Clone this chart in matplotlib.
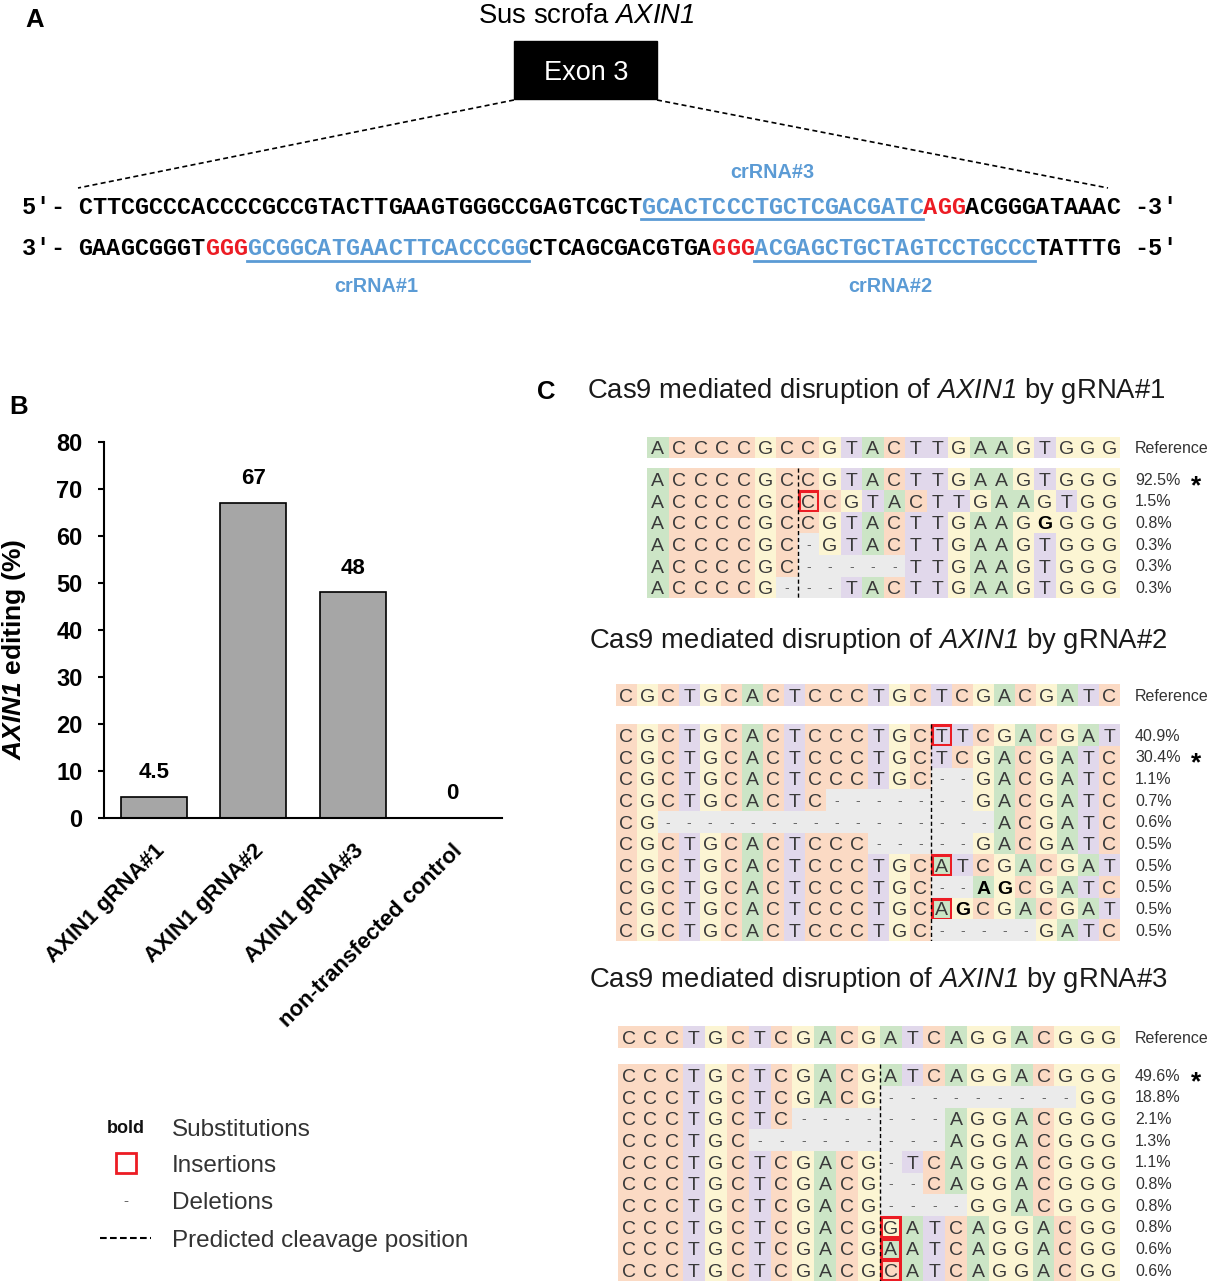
import numpy as np
import matplotlib.pyplot as plt
from matplotlib.patches import Rectangle

plt.rcParams['font.family'] = ['Liberation Sans', 'DejaVu Sans']
plt.rcParams['mathtext.fontset'] = 'custom'
# math parts are only used for the italic gene name, so digits go italic too
plt.rcParams['mathtext.rm'] = 'Liberation Sans:italic'
plt.rcParams['mathtext.it'] = 'Liberation Sans:italic'
plt.rcParams['mathtext.bf'] = 'Liberation Sans:italic:bold'

# ---------------- data ----------------
# Panel A: exon 3 sequence, top strand 5'->3', bottom strand 3'->5'
top_strand = ("CTTCGCCCACCCCGCCGTACTTGAAGTGGGCCGAGTCGCT" + "GCACTCCCTGCTCGACGATC"
              + "AGG" + "ACGGGATAAAC")
bottom_strand = ("GAAGCGGGT" + "GGG" + "GCGGCATGAACTTCACCCGG" + "CTCAGCGACGTGA"
                 + "GGG" + "ACGAGCTGCTAGTCCTGCCC" + "TATTTG")
crrna_names = ["crRNA#1", "crRNA#2", "crRNA#3"]
crrna_strand = ["bottom", "bottom", "top"]
crrna_start = [12, 48, 40]
pam_start = [9, 45, 60]

# Panel B
bar_labels = ["AXIN1 gRNA#1", "AXIN1 gRNA#2", "AXIN1 gRNA#3", "non-transfected control"]
bar_values = [4.5, 67, 48, 0]

# Panel C (lowercase = inserted base)
g1_ref = "ACCCCGCCGTACTTGAAGTGGG"
g1_alleles = ["ACCCCGCCGTACTTGAAGTGGG", "ACCCCGCcCGTACTTGAAGTGG", "ACCCCGCCGTACTTGAAGGGGG",
              "ACCCCGC-GTACTTGAAGTGGG", "ACCCCGC-----TTGAAGTGGG", "ACCCCG---TACTTGAAGTGGG"]
g1_pct = ["92.5%", "1.5%", "0.8%", "0.3%", "0.3%", "0.3%"]
g1_bold = [[], [], [18], [], [], []]
g1_star, g1_cut = 0, 7

g2_ref = "CGCTGCACTCCCTGCTCGACGATC"
g2_alleles = ["CGCTGCACTCCCTGCtTCGACGAT", "CGCTGCACTCCCTGCTCGACGATC", "CGCTGCACTCCCTGC--GACGATC",
              "CGCTGCACTC-------GACGATC", "CG----------------ACGATC", "CGCTGCACTCCC-----GACGATC",
              "CGCTGCACTCCCTGCaTCGACGAT", "CGCTGCACTCCCTGC--AGCGATC", "CGCTGCACTCCCTGCaGCGACGAT",
              "CGCTGCACTCCCTGC-----GATC"]
g2_pct = ["40.9%", "30.4%", "1.1%", "0.7%", "0.6%", "0.5%", "0.5%", "0.5%", "0.5%", "0.5%"]
g2_bold = [[], [], [], [], [], [], [], [17, 18], [16], []]
g2_star, g2_cut = 1, 15

g3_ref = "CCCTGCTCGACGATCAGGACGGG"
g3_alleles = ["CCCTGCTCGACGATCAGGACGGG", "CCCTGCTCGACG---------GG", "CCCTGCTC-------AGGACGGG",
              "CCCTGC---------AGGACGGG", "CCCTGCTCGACG-TCAGGACGGG", "CCCTGCTCGACG--CAGGACGGG",
              "CCCTGCTCGACG----GGACGGG", "CCCTGCTCGACGgATCAGGACGG", "CCCTGCTCGACGaATCAGGACGG",
              "CCCTGCTCGACGcATCAGGACGG"]
g3_pct = ["49.6%", "18.8%", "2.1%", "1.3%", "1.1%", "0.8%", "0.8%", "0.8%", "0.6%", "0.6%"]
g3_bold = [[] for _ in range(10)]
g3_star, g3_cut = 0, 12

# ---------------- style ----------------
W, H = 1213, 1283
BLUE = '#5b9bd5'
RED = '#ec1c24'
BASE_COL = {'A': '#cce5c6', 'C': '#fbdac4', 'G': '#fcf5d3', 'T': '#e1d8eb', '-': '#ebebeb'}
MONO = ['Liberation Mono', 'DejaVu Sans Mono']
ROW_H = 21.7

fig = plt.figure(figsize=(W / 100, H / 100), dpi=100)

# page axes in pixel units for annotations
ax0 = fig.add_axes([0, 0, 1, 1])
ax0.set_xlim(0, W)
ax0.set_ylim(H, 0)
ax0.axis('off')


def cap_text(ax, x, y, s, size, **kw):
    # place text so that capital letters are vertically centred on y
    ax.annotate(s, (x, y), xytext=(0, -0.35 * size), textcoords='offset points',
                va='baseline', fontsize=size, annotation_clip=False, **kw)


# ---------------- panel A ----------------
cap_text(ax0, 35, 18, 'A', 18.5, ha='center', fontweight='bold')
ax0.text(586, 16, r'Sus scrofa $\mathit{AXIN1}$', fontsize=19.8, ha='center', va='center')
ax0.add_patch(Rectangle((514, 41), 143, 58, fc='black', ec='black'))
cap_text(ax0, 586, 71, 'Exon 3', 19.5, ha='center', color='white')
ax0.plot([514, 78], [100, 188], color='k', lw=1.2, ls=(0, (3, 2)))
ax0.plot([657, 1108], [100, 188], color='k', lw=1.2, ls=(0, (3, 2)))

pitch, x0 = 14.08, 78
label_dx = {"crRNA#1": -12, "crRNA#2": -4, "crRNA#3": -10}
strands = {'top': (top_strand, 206, "5′- ", " -3′", 219, 171),
           'bottom': (bottom_strand, 247, "3′- ", " -5′", 261, 285)}
for key, (seq, yc, lend, rend, yu, ylab) in strands.items():
    cols = ['k'] * len(seq)
    for name, st, s, p in zip(crrna_names, crrna_strand, crrna_start, pam_start):
        if st != key:
            continue
        for i in range(s, s + 20):
            cols[i] = BLUE
        for i in range(p, p + 3):
            cols[i] = RED
        ax0.plot([x0 + s * pitch, x0 + (s + 20) * pitch], [yu, yu], color=BLUE, lw=2)
        cap_text(ax0, x0 + (s + 10) * pitch + label_dx[name], ylab, name, 14.3, ha='center',
                 color=BLUE, fontweight='bold')
    full = lend + seq + rend
    cols = ['k'] * len(lend) + cols + ['k'] * len(rend)
    for k, ch in enumerate(full):
        i = k - len(lend)
        cap_text(ax0, x0 + (i + 0.5) * pitch, yc, ch, 16.9, ha='center', color=cols[k],
                 fontweight='bold', family=MONO)

# ---------------- panel B ----------------
cap_text(ax0, 19, 405, 'B', 18.5, ha='center', fontweight='bold')
axb = fig.add_axes([104 / W, 1 - 818 / H, 398 / W, 376 / H])
xb = np.arange(len(bar_values))
axb.bar(xb, bar_values, width=0.66, color='#a6a6a6', edgecolor='k', linewidth=1.2)
for i, v in enumerate(bar_values):
    axb.annotate(f'{v:g}', (i, v), xytext=(0, 10), textcoords='offset points',
                 ha='center', va='bottom', fontsize=16, fontweight='bold')
axb.set_xlim(-0.5, 3.5)
axb.set_ylim(0, 80)
axb.set_yticks(np.arange(0, 81, 10))
axb.set_yticklabels([str(t) for t in range(0, 81, 10)], fontsize=17, fontweight='bold')
axb.set_xticks(xb)
axb.set_xticklabels(bar_labels, rotation=45, ha='right', va='top', rotation_mode='anchor',
                    fontsize=16, fontweight='bold')
axb.tick_params(axis='y', direction='out', length=4.5, width=1.5, pad=11)
axb.tick_params(axis='x', length=0, pad=16)
for sp in ['top', 'right']:
    axb.spines[sp].set_visible(False)
for sp in ['left', 'bottom']:
    axb.spines[sp].set_linewidth(1.5)
axb.set_ylabel(r'$\mathbf{AXIN1}$ editing (%)', fontsize=19, fontweight='bold')
axb.yaxis.set_label_coords(-0.19, 0.447)

# legend for panel C
cap_text(ax0, 126, 1127, 'bold', 13, ha='center', fontweight='bold', color='#111')
ax0.add_patch(Rectangle((116, 1153), 20, 20, fill=False, ec=RED, lw=2))
cap_text(ax0, 126, 1200, '-', 11, ha='center', color='#666')
ax0.plot([100, 151], [1238, 1238], color='k', lw=1.5, ls=(0, (3.2, 1.6)))
for yy, lab in zip([1127, 1163, 1200, 1238],
                   ['Substitutions', 'Insertions', 'Deletions', 'Predicted cleavage position']):
    cap_text(ax0, 172, yy, lab, 17.5, ha='left', color='#333')

# ---------------- panel C ----------------
cap_text(ax0, 546, 390, 'C', 18.5, ha='center', fontweight='bold')


def draw_grid(L, R, y_ref, y1, ref, alleles, pct, bold, star_row, cut, title, tx, ty):
    ax0.text(tx, ty, title, fontsize=19.8, ha='left', va='center', color='#1a1a1a')
    ncol, n = len(ref), len(alleles)
    top = y_ref - ROW_H / 2
    bot = y1 - ROW_H / 2 + n * ROW_H
    ax = fig.add_axes([L / W, 1 - bot / H, (R - L) / W, (bot - top) / H])
    ref_c = 0.5 - (y1 - y_ref) / ROW_H
    ax.set_xlim(0, ncol)
    ax.set_ylim(n, ref_c - 0.5)
    ax.axis('off')

    def one_row(seq, yc, bset):
        for j, b in enumerate(seq):
            u = b.upper()
            ax.add_patch(Rectangle((j, yc - 0.5), 1, 1, fc=BASE_COL[u], ec='none'))
            if u == '-':
                cap_text(ax, j + 0.5, yc, '-', 10, ha='center', color='#666')
            elif j in bset:
                cap_text(ax, j + 0.5, yc, u, 14, ha='center', color='k', fontweight='bold')
            else:
                cap_text(ax, j + 0.5, yc, u, 14, ha='center', color='#3a3a3a')
            if b.islower():
                ax.add_patch(Rectangle((j + 0.06, yc - 0.46), 0.88, 0.92, fill=False,
                                       ec=RED, lw=2.2))

    one_row(ref, ref_c, set())
    ax.annotate('Reference', (ncol, ref_c), xytext=(10.5, -4), textcoords='offset points',
                ha='left', va='baseline', fontsize=11.5, color='#333', annotation_clip=False)
    for i, (seq, p, b) in enumerate(zip(alleles, pct, bold)):
        one_row(seq, i + 0.5, set(b))
        ax.annotate(p, (ncol, i + 0.5), xytext=(10.8, -4), textcoords='offset points',
                    ha='left', va='baseline', fontsize=11.5, color='#333', annotation_clip=False)
        if i == star_row:
            ax.annotate('*', (ncol, i + 0.5), xytext=(55, -10), textcoords='offset points',
                        ha='center', va='baseline', fontsize=19, fontweight='bold',
                        color='k', annotation_clip=False)
    ax.plot([cut, cut], [0, n], color='k', lw=1, ls=(0, (3, 2)))


draw_grid(647, 1120, 447.5, 479, g1_ref, g1_alleles, g1_pct, g1_bold, g1_star, g1_cut,
          r'Cas9 mediated disruption of $\mathit{AXIN1}$ by gRNA#1', 587, 391)
draw_grid(615.6, 1120, 695, 735, g2_ref, g2_alleles, g2_pct, g2_bold, g2_star, g2_cut,
          r'Cas9 mediated disruption of $\mathit{AXIN1}$ by gRNA#2', 589, 641)
draw_grid(617.6, 1120, 1037, 1075, g3_ref, g3_alleles, g3_pct, g3_bold, g3_star, g3_cut,
          r'Cas9 mediated disruption of $\mathit{AXIN1}$ by gRNA#3', 589, 980)

fig.savefig('out.png', dpi=100)
